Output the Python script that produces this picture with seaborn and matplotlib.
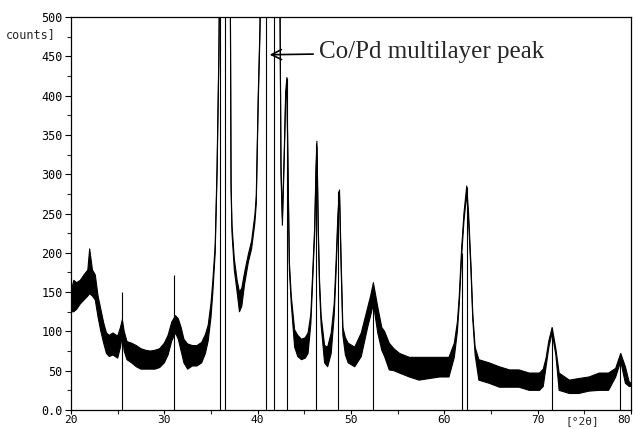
import matplotlib
matplotlib.use("Agg")
import matplotlib.pyplot as plt
import seaborn as sns
import pandas as pd

# Diffractogram trace: 2-theta positions with lower / upper edge of the noisy signal band
two_theta = [20.0, 20.3, 20.6, 21.0, 21.4, 21.8, 22.0, 22.3, 22.6, 22.9, 23.2, 23.5, 23.8, 24.1,
             24.5, 25.0, 25.3, 25.5, 25.7, 26.0, 26.5, 27.0, 27.5, 28.0, 28.5, 29.0, 29.5, 30.0,
             30.4, 30.8, 31.2, 31.5, 31.8, 32.1, 32.5, 33.0, 33.5, 34.0, 34.4, 34.7, 35.0, 35.2,
             35.45, 35.65, 35.85, 35.95, 36.5, 37.05, 37.15, 37.25, 37.5, 37.8, 38.05, 38.3, 38.6,
             39.0, 39.35, 39.7, 39.85, 40.06, 40.24, 40.4, 41.5, 42.35, 42.5, 42.65, 42.85, 43.0,
             43.13, 43.25, 43.4, 43.6, 43.96, 44.3, 44.7, 45.1, 45.4, 45.7, 45.95, 46.1, 46.25,
             46.35, 46.5, 46.63, 46.8, 47.17, 47.5, 47.88, 48.2, 48.4, 48.6, 48.77, 48.95, 49.13,
             49.4, 49.7, 50.4, 51.1, 51.8, 52.1, 52.4, 52.87, 53.3, 53.6, 54.1, 54.6, 55.2, 56.26,
             57.3, 58.4, 59.5, 60.5, 61.07, 61.4, 61.6, 61.85, 62.1, 62.4, 62.6, 62.85, 63.05,
             63.3, 63.7, 64.8, 65.9, 67.0, 68.0, 69.1, 70.2, 70.6, 70.9, 71.2, 71.55, 71.95, 72.3,
             73.4, 74.4, 75.5, 76.6, 77.6, 78.36, 78.9, 79.4, 79.8, 80.0]
counts_low = [125, 125, 128, 135, 140, 145, 148, 145, 140, 118, 100, 85, 72, 68,
              70, 66, 80, 95, 75, 64, 60, 55, 52, 52, 52, 52, 54, 60,
              70, 88, 98, 90, 75, 60, 52, 56, 56, 60, 72, 88, 118, 150,
              200, 300, 450, 600, 600, 600, 280, 225, 178, 150, 125, 132, 160,
              188, 205, 238, 262, 390, 475, 600, 600, 600, 300, 235, 320, 395,
              415, 300, 178, 135, 80, 68, 64, 66, 72, 110, 180, 222, 300,
              335, 220, 155, 108, 60, 55, 72, 120, 175, 240, 272, 178, 95,
              70, 60, 55, 68, 106, 120, 135, 98, 76, 68, 51, 50, 47, 42,
              38, 40, 42, 42, 67, 100, 135, 195, 240, 275, 240, 178, 115,
              70, 38, 34, 29, 29, 29, 25, 25, 30, 55, 80, 98, 70, 25,
              21, 21, 24, 25, 25, 42, 62, 34, 30, 30]
counts_high = [150, 165, 162, 165, 172, 178, 205, 178, 172, 145, 128, 111, 98, 95,
               98, 94, 105, 115, 100, 87, 85, 82, 78, 76, 75, 76, 78, 85,
               95, 112, 120, 116, 105, 90, 84, 82, 82, 86, 96, 108, 136, 165,
               210, 310, 460, 600, 600, 600, 290, 235, 192, 165, 150, 155, 175,
               198, 215, 248, 272, 400, 485, 600, 600, 600, 310, 245, 330, 405,
               423, 310, 188, 145, 102, 95, 90, 92, 98, 122, 190, 230, 308,
               342, 230, 165, 120, 82, 80, 98, 135, 188, 250, 280, 188, 105,
               92, 85, 80, 98, 131, 145, 162, 131, 105, 100, 85, 78, 72, 67,
               67, 67, 67, 67, 85, 112, 145, 205, 250, 285, 250, 186, 122,
               80, 64, 60, 55, 51, 51, 47, 47, 52, 66, 88, 105, 78, 47,
               38, 40, 42, 47, 47, 53, 72, 55, 36, 34]

# Reference stick positions and heights (values above 500 run off the top)
stick_pos = [25.5, 31.0, 35.97, 36.47, 40.93, 41.8, 43.1, 46.2, 48.65, 52.4, 61.9, 62.45, 71.5, 78.85]
stick_height = [150, 172, 600, 600, 600, 600, 422, 340, 278, 155, 200, 284, 104, 70]

x_ticks = [20, 30, 40, 50, 60, 70, 80]
y_ticks = [0, 50, 100, 150, 200, 250, 300, 350, 400, 450, 500]
y_tick_labels = ["0.0", "50", "100", "150", "200", "250", "300", "350", "400", "450", "500"]

sns.set_theme(style="ticks")
plt.rcParams["font.family"] = ["DejaVu Sans Mono", "DejaVu Sans"]

trace = pd.DataFrame({"two_theta": two_theta, "low": counts_low, "high": counts_high})

fig = plt.figure(figsize=(6.35, 4.29), dpi=100)
ax = fig.add_axes([71 / 635, 19 / 429, 560 / 635, 393 / 429])

ax.fill_between(trace["two_theta"], trace["low"], trace["high"], color="black", lw=0)
sns.lineplot(data=trace, x="two_theta", y="low", ax=ax, color="black", lw=0.8)
sns.lineplot(data=trace, x="two_theta", y="high", ax=ax, color="black", lw=0.8)
ax.vlines(stick_pos, 0, stick_height, color="black", lw=0.8)

ax.set_xlim(20, 80)
ax.set_ylim(0, 500)
ax.set_xticks(x_ticks)
ax.set_xticks([25, 35, 45, 55, 65, 75], minor=True)
ax.set_yticks(y_ticks)
ax.set_yticklabels(y_tick_labels)
ax.set_yticks([25, 75, 125, 175, 225, 275, 325, 375, 425, 475], minor=True)
ax.tick_params(axis="y", which="major", direction="out", length=4, width=0.8,
               labelsize=8.5, colors="black", pad=2)
ax.tick_params(axis="x", which="major", direction="out", length=3, width=0.8,
               labelsize=8, colors="black", pad=0.5)
ax.tick_params(axis="both", which="minor", direction="out", length=3, width=0.8)
# keep the last x label inside the figure edge
ax.get_xticklabels()[-1].set_horizontalalignment("right")
ax.set_xlabel("")
ax.set_ylabel("")
for side in ["left", "right", "top", "bottom"]:
    ax.spines[side].set_visible(True)
    ax.spines[side].set_color("black")
    ax.spines[side].set_linewidth(0.9)

fig.text(6 / 635, 1 - 35 / 429, "counts]", fontsize=8.5, va="center", ha="left")
fig.text(582 / 635, 1 - 421 / 429, "[°2θ]", fontsize=8, va="center", ha="center")

ax.annotate("Co/Pd multilayer peak", xy=(41.28, 452), xytext=(46.6, 455),
            fontsize=18, family="Liberation Serif", va="center", ha="left",
            arrowprops=dict(arrowstyle="->", color="black", lw=1.2,
                            shrinkA=2, shrinkB=0))

fig.savefig("out.png", dpi=100, facecolor="white")
